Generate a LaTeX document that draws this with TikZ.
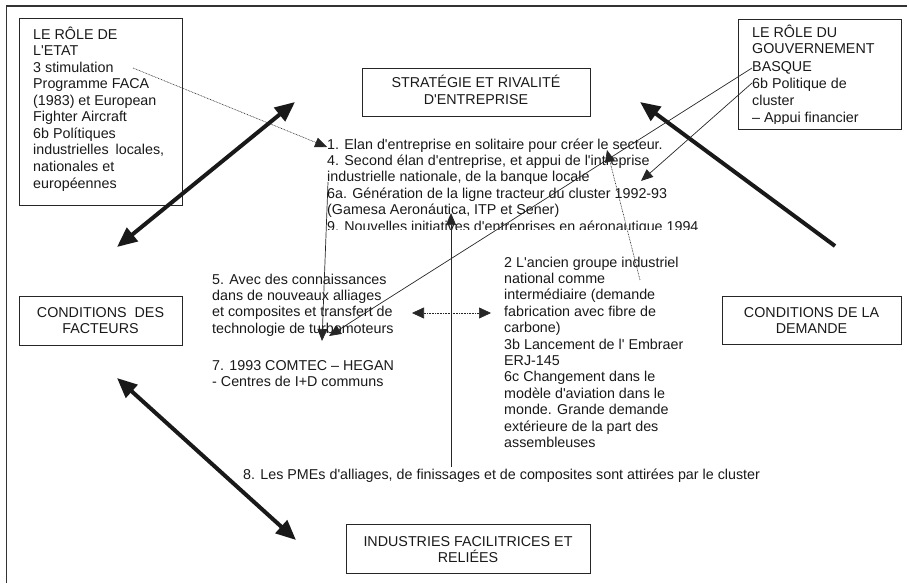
\documentclass[tikz,border=0pt]{standalone}
\usepackage{fontspec}
\setmainfont{Liberation Sans}
\usetikzlibrary{arrows.meta}
\newcommand\myq{\textquotesingle}
\begin{document}
\begin{tikzpicture}[x=1pt,y=-1pt,
  box/.style={draw=black!85, line width=0.9pt, inner sep=0pt, anchor=north west},
  ltxt/.style={inner sep=0pt, anchor=base west, align=left, font=\fontsize{14.3}{16.4}\selectfont, text=black!90},
  ctxt/.style={inner sep=0pt, anchor=base, align=center, font=\fontsize{14.3}{16.4}\selectfont, text=black!90},
  bigarrow/.style={line width=4pt, draw=black!90, -{Triangle[length=20pt,width=17pt]}},
  bigdouble/.style={line width=4pt, draw=black!90, {Triangle[length=20pt,width=17pt]}-{Triangle[length=20pt,width=17pt]}},
  thinarrow/.style={line width=0.7pt, draw=black!85, -{Triangle[length=12pt,width=10pt]}},
  dotarrow/.style={line width=0.6pt, draw=black!85, dash pattern=on 0.8pt off 0.8pt, -{Triangle[length=12pt,width=10pt]}},
  dotdouble/.style={line width=0.6pt, draw=black!85, dash pattern=on 0.8pt off 0.8pt, {Triangle[length=12pt,width=11pt]}-{Triangle[length=12pt,width=11pt]}}
]
\useasboundingbox (0,0) rectangle (909,583);
% outer frame (left and top only)
\draw[line width=1.2pt, black!80] (6.5,583) -- (6.5,6) -- (907,6);

% boxes
\node[box, minimum width=163pt, minimum height=187pt] (etat) at (19,18) {};
\node[box, minimum width=163pt, minimum height=110pt] (basque) at (738,19) {};
\node[box, minimum width=228pt, minimum height=48pt] (strat) at (362,68) {};
\node[box, minimum width=163pt, minimum height=49pt] (facteurs) at (19,296) {};
\node[box, minimum width=179pt, minimum height=48pt] (demande) at (722,296) {};
\node[box, minimum width=244pt, minimum height=49pt] (indus) at (346,524) {};

% box texts (anchor = baseline of the last line)
\node[ltxt, font=\fontsize{14.3}{16.55}\selectfont] (etat-t) at (33,188) {LE RÔLE DE\\L\myq{}ETAT\\3 stimulation\\Programme FACA\\(1983) et European\\Fighter Aircraft\\6b Polítiques\\industrielles\hspace{3pt} locales,\\nationales et\\européennes};
\begin{scope}
\clip (740,20) rectangle (900,123);
\node[ltxt, font=\fontsize{14.3}{17}\selectfont] (basque-t) at (752,122) {LE RÔLE DU\\GOUVERNEMENT\\BASQUE\\6b Politique de\\cluster\\– Appui financier};
\end{scope}
\node[ctxt] (strat-t) at (476,104.4) {STRATÉGIE ET RIVALITÉ\\D\myq{}ENTREPRISE};
\node[ctxt] (fact-t) at (100.5,333.4) {CONDITIONS\ \ DES\\FACTEURS};
\node[ctxt] (dem-t) at (811.5,333.4) {CONDITIONS DE LA\\DEMANDE};
\node[ctxt] (ind-t) at (468,562.4) {INDUSTRIES FACILITRICES ET\\RELIÉES};

% free texts
\begin{scope}
\clip (320,135) rectangle (720,229.8);
\node[ltxt] (elan) at (327,231) {1. Elan d\myq{}entreprise en solitaire pour créer le secteur.\\4. Second élan d\myq{}entreprise, et appui de l\myq{}intreprise\\industrielle nationale, de la banque locale\\6a. Génération de la ligne tracteur du cluster 1992-93\\(Gamesa Aeronáutica, ITP et Sener)\\9. Nouvelles initiatives d\myq{}entreprises en aéronautique 1994};
\end{scope}
\node[ltxt] (avec) at (212,333.2) {5. Avec des connaissances\\dans de nouveaux alliages\\et composites et transfert de\\technologie de turbomoteurs};
\node[ltxt] (comtec) at (212,386.4) {7. 1993 COMTEC – HEGAN\\- Centres de I+D communs};
\node[ltxt] (ancien) at (504,447.4) {2 L\myq{}ancien groupe industriel\\national comme\\intermédiaire (demande\\fabrication avec fibre de\\carbone)\\3b Lancement de l\myq{} Embraer\\ERJ-145\\6c Changement dans le\\modèle d\myq{}aviation dans le\\monde. Grande demande\\extérieure de la part des\\assembleuses};
\node[ltxt] (pme) at (243,479) {8. Les PMEs d\myq{}alliages, de finissages et de composites sont attirées par le cluster};

% connector end points
\coordinate (fac-n) at (117,247);
\coordinate (str-sw) at (295,102);
\coordinate (dem-n) at (835,246);
\coordinate (str-se) at (640,102);
\coordinate (fac-s) at (117,378);
\coordinate (ind-nw) at (296,540);
\coordinate (stim) at (133,68);
\coordinate (elan-start) at (327,147);
\coordinate (basq1) at (752,68);
\coordinate (turbo1) at (329,336);
\coordinate (basq2) at (752,83);
\coordinate (banque) at (641,181);
\coordinate (ancien-up) at (640,280);
\coordinate (secteur) at (607,150);
\coordinate (pme-up) at (451,467);
\coordinate (gamesa) at (451,213);
\coordinate (indus-l) at (328,182);
\coordinate (turbo2) at (322,341);
\coordinate (g1) at (412,313);
\coordinate (g2) at (491,313);

% thick arrows
\draw[bigdouble] (fac-n) -- (str-sw);
\draw[bigarrow] (dem-n) -- (str-se);
\draw[bigdouble] (fac-s) -- (ind-nw);

% thin arrows
\draw[dotarrow] (stim) -- (elan-start);
\draw[thinarrow] (basq1) -- (turbo1);
\draw[thinarrow] (basq2) -- (banque);
\draw[dotarrow] (ancien-up) -- (secteur);
\draw[thinarrow] (pme-up) -- (gamesa);
\draw[thinarrow] (indus-l) -- (turbo2);
\draw[dotdouble] (g1) -- (g2);
\end{tikzpicture}
\end{document}
